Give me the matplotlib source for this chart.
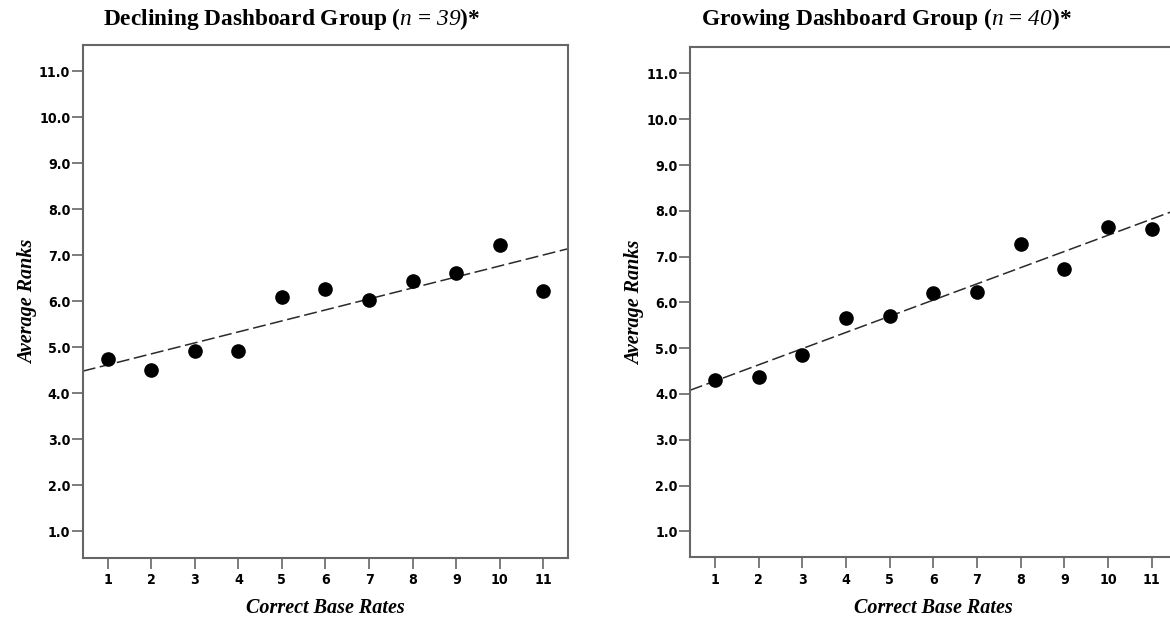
import matplotlib
matplotlib.use("Agg")
import matplotlib.pyplot as plt
import numpy as np

# math segments carry the italic "n = 39" part of the titles
plt.rcParams['mathtext.fontset'] = 'custom'
plt.rcParams['mathtext.rm'] = 'Liberation Serif:italic'
plt.rcParams['mathtext.it'] = 'Liberation Serif:italic'

base_rates = [1, 2, 3, 4, 5, 6, 7, 8, 9, 10, 11]
declining_ranks = [4.75, 4.50, 4.92, 4.92, 6.09, 6.27, 6.04, 6.44, 6.61, 7.22, 6.22]
growing_ranks = [4.30, 4.38, 4.86, 5.65, 5.70, 6.20, 6.23, 7.27, 6.72, 7.65, 7.60]

ytick_vals = [1, 2, 3, 4, 5, 6, 7, 8, 9, 10, 11]
titles = [r"Declining Dashboard Group ($n$ = $39$)*",
          r"Growing Dashboard Group ($n$ = $40$)*"]

tick_font = dict(family='DejaVu Sans', stretch='condensed',
                 weight='bold', size=10.2)
label_font = dict(family='Liberation Serif', weight='bold', style='italic', size=14.5)
spine_col = '#666666'

fig = plt.figure(figsize=(11.7, 6.2), dpi=100)
ax1 = fig.add_axes([0.0707, 0.1005, 0.415, 0.8265])
ax2 = fig.add_axes([0.5897, 0.101, 0.416, 0.8226])

for ax, ranks, title, tx in [(ax1, declining_ranks, titles[0], 0.249),
                             (ax2, growing_ranks, titles[1], 0.758)]:
    x = np.array(base_rates, dtype=float)
    y = np.array(ranks)
    ax.set_xlim(0.43, 11.57)
    ax.set_ylim(0.43, 11.57)

    # least-squares fit line across the full axis width
    slope, icpt = np.polyfit(x, y, 1)
    xl = np.array(ax.get_xlim())
    ax.plot(xl, icpt + slope * xl, color='#2a2a2a', lw=1.1,
            dashes=(8.5, 3), zorder=2)
    ax.plot(x, y, 'o', color='black', ms=9.5, zorder=3)

    ax.set_xticks(base_rates)
    ax.set_yticks(ytick_vals)
    ax.set_xticklabels([str(v) for v in base_rates], **tick_font)
    ax.set_yticklabels(["%.1f" % v for v in ytick_vals], **tick_font)
    ax.tick_params(axis='both', direction='out', length=8, width=1.2,
                   color=spine_col)
    ax.tick_params(axis='x', pad=3)
    ax.tick_params(axis='y', pad=1)
    for s in ax.spines.values():
        s.set_color(spine_col)
        s.set_linewidth(1.5)

    ax.set_xlabel("Correct Base Rates", labelpad=8, **label_font)
    ax.set_ylabel("Average Ranks", labelpad=1, **label_font)
    fig.text(tx, 0.970, title, ha='center', va='center',
             family='Liberation Serif', weight='bold', size=16.8)

fig.savefig("out.png", dpi=100, facecolor='white')
